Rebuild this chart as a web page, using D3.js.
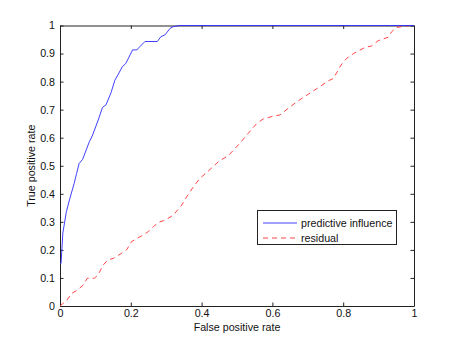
<!DOCTYPE html>
<html lang="en">
<head>
<meta charset="UTF-8">
<title>ROC</title>
<style>
  body { margin: 0; background: #fff; }
  text { font-family: "Liberation Sans", Arial, sans-serif; font-size: 10.7px; fill: #111; }
</style>
</head>
<body>
<script src="https://cdn.jsdelivr.net/npm/d3@7"></script>
<script>
    // values
    const influenceFpr = [0, 0.003, 0.008, 0.018, 0.028, 0.04, 0.047, 0.054, 0.064, 0.083, 0.091, 0.108, 0.12, 0.13, 0.144,
        0.155, 0.165, 0.176, 0.186, 0.198, 0.205, 0.217, 0.226, 0.24, 0.275, 0.285, 0.297, 0.311, 0.32, 0.339, 1];
    const influenceTpr = [0.15, 0.152, 0.26, 0.336, 0.384, 0.437, 0.473, 0.508, 0.523, 0.586, 0.606, 0.663, 0.708, 0.717, 0.76,
        0.805, 0.827, 0.853, 0.865, 0.895, 0.913, 0.913, 0.925, 0.943, 0.943, 0.96, 0.967, 0.99, 0.996, 1, 1];

    const residualFpr = [0, 0.019, 0.033, 0.047, 0.066, 0.077, 0.097, 0.107, 0.122, 0.135, 0.151, 0.174, 0.188, 0.202, 0.217,
        0.235, 0.249, 0.264, 0.278, 0.297, 0.32, 0.344, 0.358, 0.377, 0.395, 0.417, 0.447, 0.477, 0.508, 0.532, 0.556,
        0.574, 0.603, 0.621, 0.645, 0.669, 0.701, 0.734, 0.758, 0.772, 0.786, 0.794, 0.81, 0.829, 0.862, 0.88, 0.899,
        0.927, 0.937, 0.951, 0.965, 0.989, 1];
    const residualTpr = [0, 0.02, 0.045, 0.055, 0.075, 0.099, 0.099, 0.11, 0.146, 0.164, 0.17, 0.188, 0.2, 0.229, 0.241,
        0.253, 0.265, 0.283, 0.298, 0.306, 0.324, 0.36, 0.39, 0.425, 0.455, 0.479, 0.514, 0.538, 0.58, 0.616, 0.651,
        0.667, 0.677, 0.681, 0.705, 0.728, 0.755, 0.782, 0.803, 0.811, 0.841, 0.859, 0.883, 0.9, 0.922, 0.927, 0.946,
        0.958, 0.978, 0.993, 0.996, 1, 1];

    const xTicks = [0, 0.2, 0.4, 0.6, 0.8, 1];
    const yTicks = [0, 0.1, 0.2, 0.3, 0.4, 0.5, 0.6, 0.7, 0.8, 0.9, 1];
    const seriesNames = ["predictive influence", "residual"];

    let width = 457;
    let height = 344;
    let plotLeft = 60, plotRight = 414, plotTop = 25.5, plotBottom = 306;

    let svg = d3.select("body").append("svg")
        .attr("width", width)
        .attr("height", height);

    let x = d3.scaleLinear().domain([0, 1]).range([plotLeft, plotRight]);
    let y = d3.scaleLinear().domain([0, 1]).range([plotBottom, plotTop]);

    let fmt = d => String(d);
    let tick = 3.5;

    // axes, ticks pointing inwards on all sides
    svg.append("g").attr("transform", `translate(0,${plotBottom})`)
        .call(d3.axisBottom(x).tickValues(xTicks).tickFormat(fmt).tickSizeInner(-tick).tickSizeOuter(0).tickPadding(3.5));
    svg.append("g").attr("transform", `translate(0,${plotTop})`)
        .call(d3.axisTop(x).tickValues(xTicks).tickFormat("").tickSizeInner(-tick).tickSizeOuter(0));
    svg.append("g").attr("transform", `translate(${plotLeft},0)`)
        .call(d3.axisLeft(y).tickValues(yTicks).tickFormat(fmt).tickSizeInner(-tick).tickSizeOuter(0).tickPadding(5));
    svg.append("g").attr("transform", `translate(${plotRight},0)`)
        .call(d3.axisRight(y).tickValues(yTicks).tickFormat("").tickSizeInner(-tick).tickSizeOuter(0));

    svg.selectAll(".domain, .tick line").attr("stroke", "#222").attr("stroke-width", 1);
    svg.selectAll(".tick text").attr("font-size", 10.7).attr("font-family", "Liberation Sans, Arial, sans-serif").attr("fill", "#111");

    let line = d3.line().x(d => x(d[0])).y(d => y(d[1]));

    svg.append("path")
        .datum(residualFpr.map((v, i) => [v, residualTpr[i]]))
        .attr("d", line)
        .attr("fill", "none")
        .attr("stroke", "#ff3030")
        .attr("stroke-width", 0.9)
        .attr("stroke-dasharray", "5,4");

    svg.append("path")
        .datum(influenceFpr.map((v, i) => [v, influenceTpr[i]]))
        .attr("d", line)
        .attr("fill", "none")
        .attr("stroke", "#2a2aff")
        .attr("stroke-width", 0.9);

    // axis labels
    svg.append("text")
        .attr("x", (plotLeft + plotRight) / 2)
        .attr("y", 331)
        .attr("text-anchor", "middle")
        .text("False positive rate");
    svg.append("text")
        .attr("transform", `translate(35,${(plotTop + plotBottom) / 2}) rotate(-90)`)
        .attr("text-anchor", "middle")
        .text("True positive rate");

    // legend
    let legend = svg.append("g");
    legend.append("rect")
        .attr("x", 257.5).attr("y", 210.5)
        .attr("width", 139).attr("height", 34)
        .attr("fill", "#fff").attr("stroke", "#222").attr("stroke-width", 1);
    let rowY = [223, 238];
    let styles = [{ c: "#2a2aff", d: null }, { c: "#ff3030", d: "5,4" }];
    seriesNames.forEach((name, i) => {
        legend.append("line")
            .attr("x1", 263).attr("x2", 297)
            .attr("y1", rowY[i]).attr("y2", rowY[i])
            .attr("stroke", styles[i].c)
            .attr("stroke-width", 0.9)
            .attr("stroke-dasharray", styles[i].d);
        legend.append("text")
            .attr("x", 301).attr("y", rowY[i] + 3.5)
            .text(name);
    });
</script>
</body>
</html>
